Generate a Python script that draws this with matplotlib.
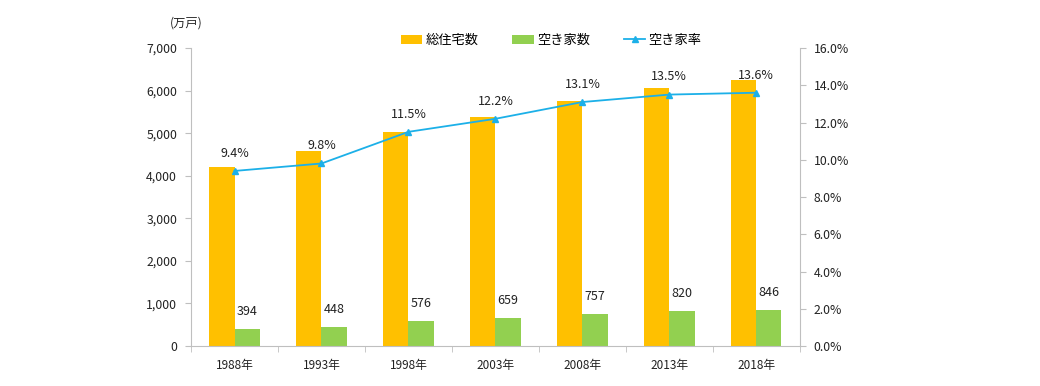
import matplotlib
matplotlib.use("Agg")
import matplotlib.pyplot as plt
import numpy as np
from matplotlib.ticker import FuncFormatter, MultipleLocator

plt.rcParams['font.family'] = ['Noto Sans CJK JP', 'DejaVu Sans']

years = ["1988年", "1993年", "1998年", "2003年", "2008年", "2013年", "2018年"]
total_houses = [4201, 4588, 5025, 5389, 5759, 6063, 6242]
vacant_houses = [394, 448, 576, 659, 757, 820, 846]
vacancy_rate = [9.4, 9.8, 11.5, 12.2, 13.1, 13.5, 13.6]

c_total = "#FFC000"
c_vacant = "#92D050"
c_rate = "#1CB0E8"
c_axis = "#BFBFBF"
c_text = "#222222"

fig = plt.figure(figsize=(10.4, 3.86), dpi=100)
ax = fig.add_axes([0.1837, 0.1036, 0.5853, 0.772])
ax2 = ax.twinx()

x = np.arange(len(years))
w = 0.29
b1 = ax.bar(x - w / 2, total_houses, w, color=c_total, label="総住宅数", zorder=2)
b2 = ax.bar(x + w / 2, vacant_houses, w, color=c_vacant, label="空き家数", zorder=2)

for xi, v in zip(x, vacant_houses):
    ax.annotate(f"{v}", (xi + w / 2, v), xytext=(0, 8), textcoords="offset points",
                ha="center", va="bottom", fontsize=9, color=c_text)

ax.set_xlim(-0.5, len(years) - 0.5)
ax.set_ylim(0, 7000)
ax.yaxis.set_major_locator(MultipleLocator(1000))
ax.yaxis.set_major_formatter(FuncFormatter(lambda v, p: f"{int(v):,}"))
ax.set_xticks(x)
ax.set_xticklabels(years)
ax.set_xticks(np.arange(-0.5, len(years), 1.0), minor=True)
ax.tick_params(axis="x", which="major", length=0, pad=9, labelsize=8.5, colors=c_text)
ax.tick_params(axis="x", which="minor", length=4, color=c_axis)
ax.tick_params(axis="y", length=4, color=c_axis, labelsize=8.8, labelcolor=c_text, pad=6)

(line,) = ax2.plot(x, vacancy_rate, color=c_rate, marker="^", markersize=4,
                   linewidth=1.3, label="空き家率", zorder=3)
for xi, v in zip(x, vacancy_rate):
    ax2.annotate(f"{v:.1f}%", (xi, v), xytext=(0, 8), textcoords="offset points",
                 ha="center", va="bottom", fontsize=9, color=c_text)
ax2.set_ylim(0, 16)
ax2.yaxis.set_major_locator(MultipleLocator(2))
ax2.yaxis.set_major_formatter(FuncFormatter(lambda v, p: f"{v:.1f}%"))
ax2.tick_params(axis="y", length=4, color=c_axis, labelsize=8.8, labelcolor=c_text, pad=6)

for a in (ax, ax2):
    a.spines["top"].set_visible(False)
    a.spines["left"].set_color(c_axis)
    a.spines["right"].set_color(c_axis)
    a.spines["bottom"].set_color(c_axis)
ax.spines["right"].set_visible(False)
ax2.spines["left"].set_visible(False)
ax2.spines["bottom"].set_visible(False)

fig.text(0.163, 0.94, "(万戸)", fontsize=8.8, color=c_text, ha="left", va="center")

fig.legend(handles=[b1, b2, line], labels=["総住宅数", "空き家数", "空き家率"],
           loc="center", bbox_to_anchor=(0.53, 0.895), ncol=3, frameon=False,
           fontsize=9.5, handlelength=1.6, handleheight=0.7, columnspacing=2.6,
           handletextpad=0.25)

fig.savefig("out.png", dpi=100)
